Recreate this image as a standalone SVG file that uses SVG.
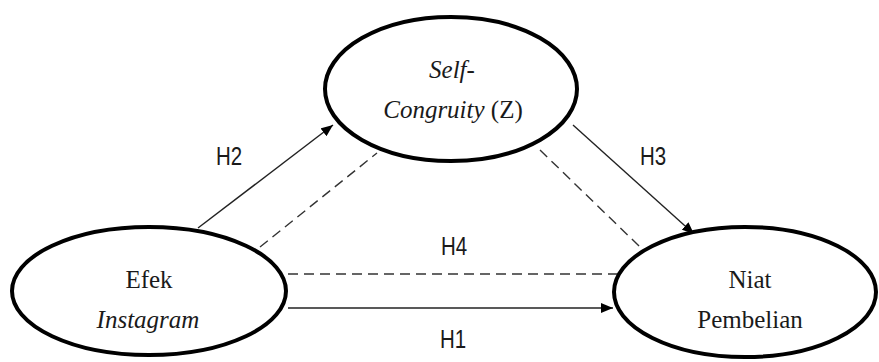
<svg xmlns="http://www.w3.org/2000/svg" width="879" height="362" viewBox="0 0 879 362">
<defs>
<marker id="ah" viewBox="0 0 12 10" refX="12" refY="5" markerWidth="12" markerHeight="10" markerUnits="userSpaceOnUse" orient="auto">
<path d="M0,0 L12,5 L0,10 Z" fill="#000"/>
</marker>
<style>
.node{fill:#fff;stroke:#000;stroke-width:4}
.t{font-family:"Liberation Serif","Times New Roman",serif;font-size:25px;fill:#1a1a1a;text-anchor:middle}
.i{font-style:italic}
.lbl{font-family:"Liberation Sans",Arial,sans-serif;font-size:25px;fill:#1a1a1a;text-anchor:middle}
.solid{stroke:#222;stroke-width:1.4;fill:none}
.dash{stroke:#333;stroke-width:1.4;fill:none;stroke-dasharray:10 6}
</style>
</defs>
<rect width="879" height="362" fill="#fff"/>
<g id="connectors">
<line class="solid" x1="198" y1="228" x2="333" y2="125" marker-end="url(#ah)"/>
<line class="dash" x1="260" y1="247" x2="377" y2="153"/>
<line class="solid" x1="573" y1="125" x2="694" y2="234" marker-end="url(#ah)"/>
<line class="dash" x1="540" y1="150" x2="640" y2="247"/>
<line class="dash" x1="288" y1="274" x2="617" y2="274"/>
<line class="solid" x1="288" y1="308" x2="613" y2="308" marker-end="url(#ah)"/>
</g>
<g id="labels">
<text class="lbl" transform="translate(229,165) scale(0.82,1)">H2</text>
<text class="lbl" transform="translate(653,165) scale(0.82,1)">H3</text>
<text class="lbl" transform="translate(454,255) scale(0.82,1)">H4</text>
<text class="lbl" transform="translate(453,348) scale(0.82,1)">H1</text>
</g>
<g id="self-congruity">
<ellipse class="node" cx="451" cy="89" rx="126" ry="72"/>
<text class="t i" x="452" y="78">Self-</text>
<text class="t" x="453" y="118"><tspan class="i">Congruity</tspan> (Z)</text>
</g>
<g id="efek-instagram">
<ellipse class="node" cx="149" cy="291" rx="137" ry="64"/>
<text class="t" x="149" y="288">Efek</text>
<text class="t i" x="148" y="328">Instagram</text>
</g>
<g id="niat-pembelian">
<ellipse class="node" cx="745" cy="292" rx="131" ry="65"/>
<text class="t" x="750" y="288">Niat</text>
<text class="t" x="750" y="328">Pembelian</text>
</g>
</svg>
